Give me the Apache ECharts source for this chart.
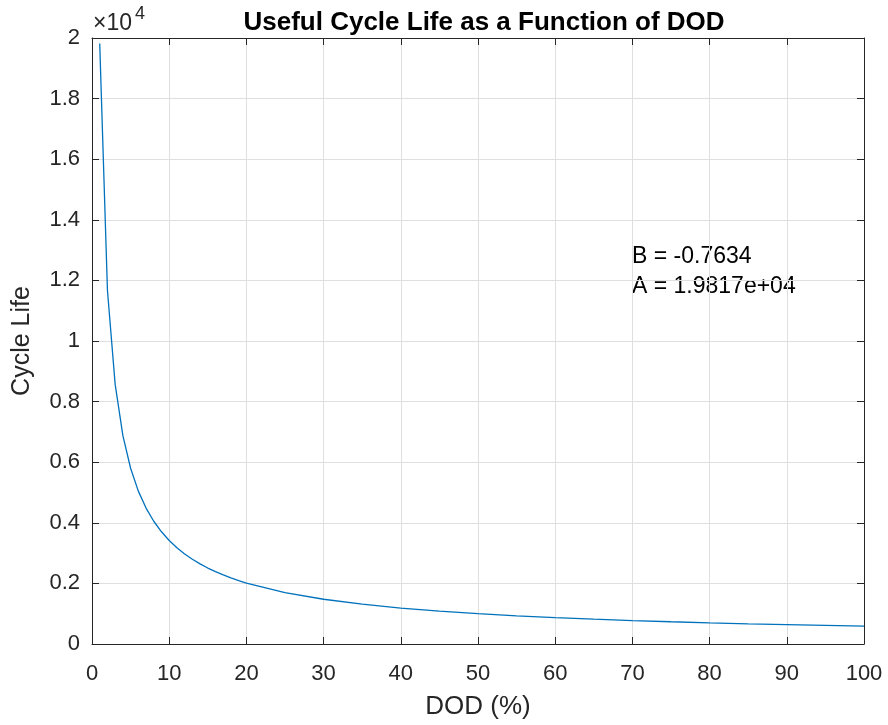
<!DOCTYPE html>
<html>
<head>
<meta charset="utf-8">
<script src="https://cdn.jsdelivr.net/npm/echarts@6/dist/echarts.min.js"></script>
<style>html,body{margin:0;padding:0;background:#fff}#c{width:888px;height:725px}</style>
</head>
<body>
<div id="c"></div>
<script>
const dod = [1,2,3,4,5,6,7,8,9,10,11,12,13,14,15,16,17,18,19,20,25,30,35,40,45,50,55,60,65,70,75,80,85,90,95,100];
const cycleLife = [19817,11674,8567,6877,5800,5046,4486,4051,3703,3417,3177,2973,2797,2643,2507,2387,2279,2181,2093,2013,1698,1477,1313,1186,1084,1000,930,870,818,773,734,699,667,639,613,589];
const xTicks = [0,10,20,30,40,50,60,70,80,90,100];
const yTickLabels = ['0','0.2','0.4','0.6','0.8','1','1.2','1.4','1.6','1.8','2'];
const annotLines = ['B = -0.7634','A = 1.9817e+04'];

const FONT = '"Liberation Sans", Arial, Helvetica, sans-serif';
const AX = '#262626';
const chart = echarts.init(document.getElementById('c'), null, {renderer:'canvas'});
const pts = dod.map((d,i)=>[d,cycleLife[i]]);
const axCommonX = {
  type:'value', min:xTicks[0], max:xTicks[xTicks.length-1], interval:10,
  axisLine:{show:true, onZero:false, lineStyle:{color:AX, width:1}},
  axisTick:{show:true, inside:true, length:7, lineStyle:{color:AX}},
};
const axCommonY = {
  type:'value', min:0, max:20000, interval:2000,
  axisLine:{show:true, onZero:false, lineStyle:{color:AX, width:1}},
  axisTick:{show:true, inside:true, length:7, lineStyle:{color:AX}},
};
chart.setOption({
  animation:false,
  backgroundColor:'#fff',
  title:{text:'Useful Cycle Life as a Function of DOD', left:479, textAlign:'center', top:5,
    textStyle:{fontFamily:FONT, fontSize:26, fontWeight:'bold', color:'#000'}},
  grid:{left:92, right:24, top:38, bottom:77, containLabel:false},
  xAxis:[
    Object.assign({}, axCommonX, {position:'bottom', name:'DOD (%)', nameLocation:'middle', nameGap:50,
      nameTextStyle:{fontFamily:FONT, fontSize:26, color:AX},
      axisLabel:{show:true, margin:19, fontFamily:FONT, fontSize:22, color:AX, formatter:v=>String(v)},
      splitLine:{show:true, lineStyle:{color:'#dfdfdf', width:1}}}),
    Object.assign({}, axCommonX, {position:'top', axisLabel:{show:false}, splitLine:{show:false}})
  ],
  yAxis:[
    Object.assign({}, axCommonY, {position:'left', name:'Cycle Life', nameLocation:'middle', nameGap:57,
      nameTextStyle:{fontFamily:FONT, fontSize:25, color:AX},
      axisLabel:{show:true, margin:12, fontFamily:FONT, fontSize:22, color:AX,
        formatter:v=>yTickLabels[Math.round(v/2000)]},
      splitLine:{show:true, lineStyle:{color:'#dfdfdf', width:1}}}),
    Object.assign({}, axCommonY, {position:'right', axisLabel:{show:false}, splitLine:{show:false}})
  ],
  series:[{
    type:'line', data:pts, xAxisIndex:0, yAxisIndex:0, showSymbol:false, smooth:false,
    lineStyle:{color:'#0072BD', width:1.3}
  }],
  graphic:[
    {type:'text', left:93, top:5, style:{text:'{a|×10}{b|4}', rich:{
      a:{fontFamily:FONT, fontSize:23, fill:AX, verticalAlign:'bottom', lineHeight:30},
      b:{fontFamily:FONT, fontSize:18, fill:AX, verticalAlign:'top', lineHeight:30, padding:[0,0,14,3]}
    }}},
    {type:'text', left:632, top:241, style:{text:annotLines.join('\n'), fontFamily:FONT, fontSize:23, fill:'#000', lineHeight:30.5}}
  ]
});
</script>
</body>
</html>
